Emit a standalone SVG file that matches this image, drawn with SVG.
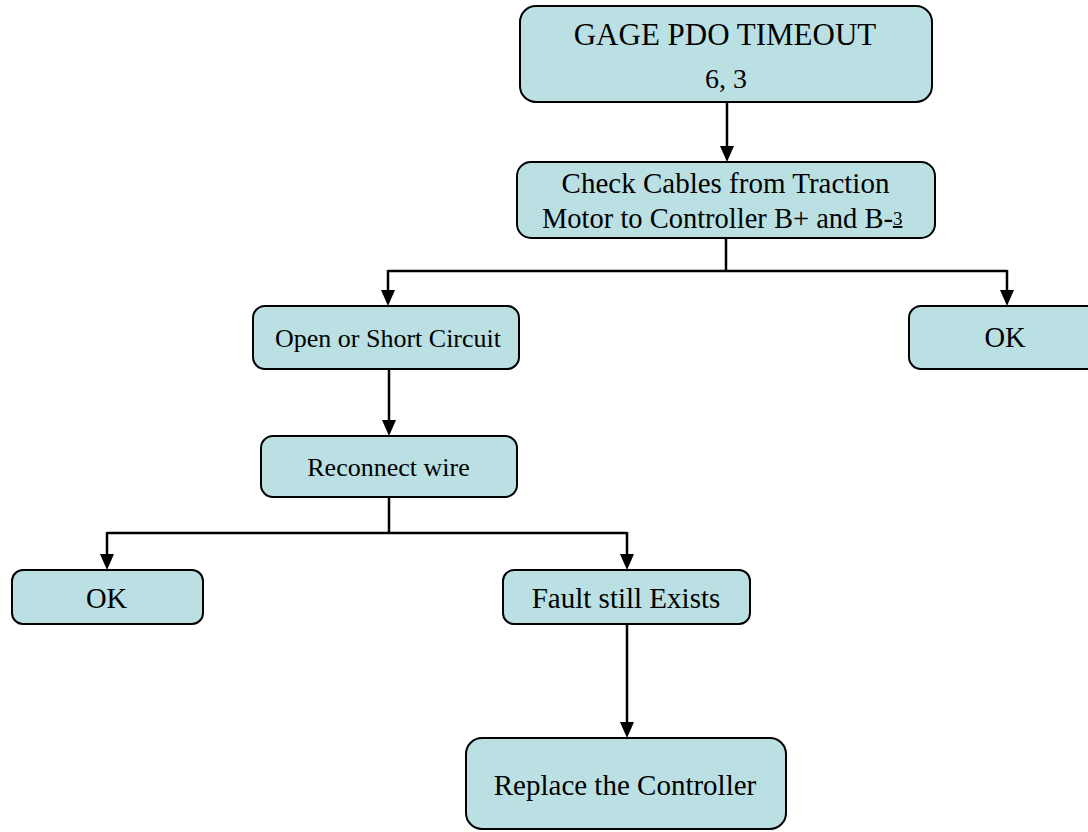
<svg xmlns="http://www.w3.org/2000/svg" width="1088" height="832" viewBox="0 0 1088 832">
  <style>
    .box { fill: #bae0e3; stroke: #000; stroke-width: 2; }
    .lbl { font-family: "Liberation Serif", "Times New Roman", serif; fill: #000; text-anchor: middle; }
    .conn { fill: none; stroke: #000; stroke-width: 2.5; }
    .head { fill: #000; }
  </style>
  <defs>
    <!-- downward arrowhead, tip at (0,0) -->
    <path id="head" class="head" d="M-7,-16 L7,-16 L0,0 Z"/>
  </defs>
  <rect width="1088" height="832" fill="#fff"/>

  <g id="connectors">
    <path class="conn" d="M727,102 V148"/>
    <use href="#head" x="727" y="162"/>

    <path class="conn" d="M726,238 V271 M388,271 H1007 M388,270 V292 M1007,270 V292"/>
    <use href="#head" x="388" y="306"/>
    <use href="#head" x="1007" y="306"/>

    <path class="conn" d="M389,369 V422"/>
    <use href="#head" x="389" y="436"/>

    <path class="conn" d="M389,497 V533 M107,533 H627 M107,532 V556 M627,532 V556"/>
    <use href="#head" x="107" y="570"/>
    <use href="#head" x="627" y="570"/>

    <path class="conn" d="M627,624 V724"/>
    <use href="#head" x="627" y="738"/>
  </g>

  <g id="node-timeout">
    <rect class="box" x="520" y="6" width="412" height="96" rx="16"/>
    <text class="lbl" x="725" y="45" font-size="31">GAGE PDO TIMEOUT</text>
    <text class="lbl" x="726" y="88" font-size="28">6, 3</text>
  </g>

  <g id="node-check-cables">
    <rect class="box" x="517" y="162" width="418" height="76" rx="14"/>
    <text class="lbl" x="725.5" y="193" font-size="29">Check Cables from Traction</text>
    <text class="lbl" x="542" y="228" font-size="28.5" style="text-anchor:start">Motor to Controller B+ and B-<tspan font-size="19" dy="-3" text-decoration="underline">3</tspan></text>
  </g>

  <g id="node-open-short">
    <rect class="box" x="253" y="306" width="266" height="63" rx="12"/>
    <text class="lbl" x="388" y="347" font-size="26">Open or Short Circuit</text>
  </g>

  <g id="node-ok-right">
    <rect class="box" x="909" y="306" width="194" height="63" rx="12"/>
    <text class="lbl" x="1005" y="347" font-size="28.5">OK</text>
  </g>

  <g id="node-reconnect">
    <rect class="box" x="261" y="436" width="256" height="61" rx="12"/>
    <text class="lbl" x="388.5" y="476" font-size="26">Reconnect wire</text>
  </g>

  <g id="node-ok-left">
    <rect class="box" x="12" y="570" width="191" height="54" rx="11"/>
    <text class="lbl" x="106.5" y="608" font-size="28.5">OK</text>
  </g>

  <g id="node-fault">
    <rect class="box" x="503" y="570" width="247" height="54" rx="11"/>
    <text class="lbl" x="626" y="608" font-size="29">Fault still Exists</text>
  </g>

  <g id="node-replace">
    <rect class="box" x="466" y="738" width="320" height="91" rx="16"/>
    <text class="lbl" x="625" y="795" font-size="29">Replace the Controller</text>
  </g>
</svg>
